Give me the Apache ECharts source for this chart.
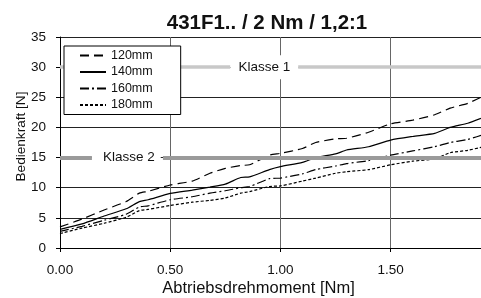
<!DOCTYPE html>
<html><head><meta charset="utf-8">
<script src="https://cdn.jsdelivr.net/npm/echarts@6/dist/echarts.min.js"></script>
<style>html,body{margin:0;padding:0;background:#fff}#c{width:481px;height:298px}</style>
</head><body><div id="c"></div>
<script>
const torque = [0,0.1,0.2,0.3,0.36,0.4,0.5,0.6,0.68,0.75,0.82,0.86,0.95,1.0,1.1,1.16,1.25,1.3,1.4,1.5,1.6,1.7,1.77,1.85,1.91];
const f120 = [3.5,4.8,6.3,7.7,9.1,9.4,10.45,11.1,12.4,13.2,13.7,13.8,15.4,15.7,16.5,17.5,18.1,18.2,19.2,20.6,21.2,22.1,23.2,24.0,25.0];
const f140 = [3.1,4.0,5.3,6.5,7.7,8.0,9.05,9.6,10.1,10.6,11.7,11.8,13.0,13.5,14.2,15.0,15.6,16.25,16.8,17.9,18.5,19.0,20.0,20.7,21.5];
const f160 = [2.75,3.6,4.6,5.6,6.8,7.0,8.0,8.5,9.1,9.5,10.0,10.2,11.5,11.6,12.3,13.0,13.6,14.0,14.5,15.4,16.1,16.8,17.5,18.0,18.7];
const f180 = [2.4,3.3,4.1,5.1,6.2,6.4,7.05,7.6,7.9,8.3,9.1,9.35,10.2,10.3,11.1,11.6,12.4,12.65,13.0,13.8,14.4,14.8,15.8,16.2,16.7];
const seriesNames = ['120mm','140mm','160mm','180mm'];
const classNames = ['Klasse 1','Klasse 2'];
const classValues = [30, 15];
const xTicks = [0, 0.5, 1.0, 1.5];

const XMAX = 1.91;
// label gap layout (in axis units)
const gapStart = [0.773, 0.145];
const gapEnd = [1.08, 0.467];
const classColors = ['#c8c8c8', '#9a9a9a'];
const classWidths = [3.5, 4];
const labelPad = [[5,8,5,8],[5,6,5,11]];

const dashes = [[9,5],'solid',[9,3,2,3],[3,2]];
const vals = [f120,f140,f160,f180];
const series = vals.map((v,i)=>({
  name: seriesNames[i], type:'line', symbol:'none', smooth:0.2,
  data: torque.map((t,j)=>[t, v[j]]),
  lineStyle:{color:'#000', width:1.2, type:dashes[i]},
  itemStyle:{color:'#000'}, z:3
}));
const mlData = [];
classValues.forEach((y,i)=>{
  mlData.push([{coord:[0,y], lineStyle:{color:classColors[i],width:classWidths[i],type:'solid'},
     label:{show:true,position:'end',formatter:classNames[i],distance:0,padding:labelPad[i],
       backgroundColor:'#fff',color:'#111',fontSize:13.5,fontFamily:'Liberation Sans, Arial'}},
     {coord:[gapStart[i],y]}]);
  mlData.push([{coord:[gapEnd[i],y], lineStyle:{color:classColors[i],width:classWidths[i],type:'solid'},label:{show:false}},
     {coord:[XMAX,y]}]);
});
series.push({name:'klasse', type:'line', data:[], z:2,
  markLine:{silent:true, symbol:['none','none'], animation:false, data: mlData}});

const chart = echarts.init(document.getElementById('c'));
chart.setOption({
  animation:false,
  textStyle:{fontFamily:'Liberation Sans, Arial, sans-serif'},
  title:{text:'431F1.. / 2 Nm / 1,2:1', left:262, textAlign:'center', top:8,
    textStyle:{fontSize:20.5, fontWeight:'bold', color:'#111', fontFamily:'Liberation Sans, Arial'}},
  grid:{left:60, top:37, right:0, bottom:50, containLabel:false, outerBoundsMode:'none'},
  legend:{data:seriesNames, orient:'vertical', left:64, top:46, backgroundColor:'#fff',
    borderColor:'#000', borderWidth:1, padding:[3,28,3,15], itemGap:3.5, itemWidth:26, itemHeight:14,
    itemStyle:{color:'rgba(0,0,0,0)', borderColor:'rgba(0,0,0,0)', borderWidth:0},
    textStyle:{fontSize:12.5, color:'#111'}, z:10},
  xAxis:{type:'value', min:0, max:XMAX, interval:0.5,
    name:'Abtriebsdrehmoment [Nm]', nameLocation:'middle', nameGap:32, nameMoveOverlap:false,
    nameTextStyle:{fontSize:16.5, color:'#111', padding:[0,0,0,-24]},
    axisLine:{lineStyle:{color:'#000'}}, axisTick:{show:true, length:4, lineStyle:{color:'#000'}},
    axisLabel:{fontSize:13.5, color:'#111', margin:15, formatter:v=> xTicks.includes(v)? v.toFixed(2):''},
    splitLine:{show:true, lineStyle:{color:'#666', width:1}}},
  yAxis:{type:'value', min:0, max:35, interval:5,
    name:'Bedienkraft [N]', nameLocation:'middle', nameGap:32, nameMoveOverlap:false,
    nameTextStyle:{fontSize:13.6, color:'#111', padding:[0,0,0,12]},
    axisLine:{show:true, lineStyle:{color:'#000'}}, axisTick:{show:true, length:4, lineStyle:{color:'#000'}},
    axisLabel:{fontSize:13.5, color:'#111', margin:14},
    splitLine:{show:true, lineStyle:{color:'#222', width:1}}},
  series: series
});
</script></body></html>
